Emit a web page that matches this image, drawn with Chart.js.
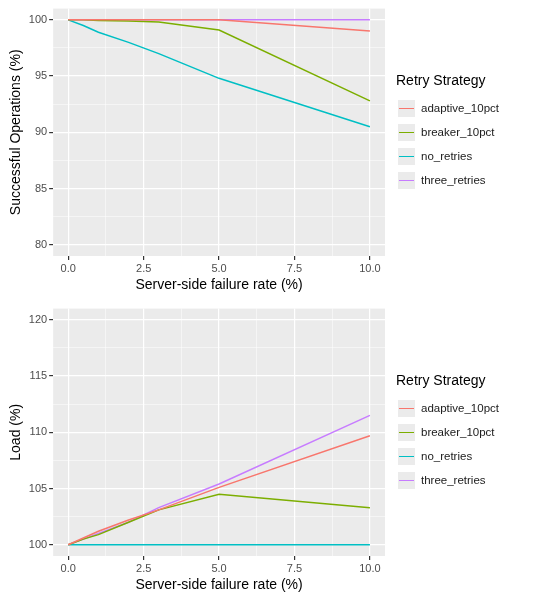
<!DOCTYPE html>
<html><head><meta charset="utf-8">
<script src="https://cdn.jsdelivr.net/npm/chart.js@4"></script>
<style>
body{margin:0;background:#fff;font-family:"Liberation Sans",Arial,sans-serif;}
.wrap{position:relative;width:540px;height:300px;}
canvas{position:absolute;left:0;top:0;}
.leg{position:absolute;left:396px;font-size:14px;color:#000;}
.leg .t{margin-bottom:8px;}
.leg .it{display:flex;align-items:center;height:24px;font-size:11.5px;color:#1a1a1a;}
.leg .k{width:17px;height:17px;background:#EBEBEB;position:relative;margin-right:6px;margin-left:2px;}
.leg .k i{position:absolute;left:1px;right:1px;top:8px;height:1.4px;}
</style></head><body>
<div class="wrap"><canvas id="c1" width="540" height="300"></canvas><div class="leg" id="l1" style="top:72px"></div></div>
<div class="wrap"><canvas id="c2" width="540" height="300"></canvas><div class="leg" id="l2" style="top:72px"></div></div>
<script>
const strategies=["adaptive_10pct","breaker_10pct","no_retries","three_retries"];
const colors=["#F8766D","#7CAE00","#00BFC4","#C77CFF"];
const failureRate=[0,0.5,1,2,3,5,10];
const successAdaptive=[100,100,100,100,100,100,99.0];
const successBreaker=[100,100,99.95,99.9,99.8,99.1,92.8];
const successNone=[100,99.5,98.9,98.0,97.0,94.8,90.5];
const successThree=[100,100,100,100,100,100,100];
const loadAdaptive=[100,100.6,101.2,102.2,103.1,105.1,109.7];
const loadBreaker=[100,100.5,100.9,102.0,103.1,104.5,103.3];
const loadNone=[100,100,100,100,100,100,100];
const loadThree=[100,100.5,101.0,102.0,103.3,105.4,111.5];
const xTicks=[0,2.5,5,7.5,10];

const bg={id:'bg',beforeDraw(c){const a=c.chartArea,x=c.ctx;x.save();x.fillStyle='#EBEBEB';x.fillRect(a.left,a.top,a.right-a.left,a.bottom-a.top);x.restore();}};
function mk(id,series,ymin,ymax,ytitle,top){
  const ds=series.map((s,i)=>({label:strategies[i],data:failureRate.map((x,j)=>({x:x,y:s[j]})),borderColor:colors[i],borderWidth:1.5,pointRadius:0,fill:false,tension:0}));
  const isMajX=v=>Math.abs(v/2.5-Math.round(v/2.5))<1e-6;
  const isMajY=v=>Math.abs(v/5-Math.round(v/5))<1e-6;
  new Chart(document.getElementById(id),{type:'line',data:{datasets:ds},plugins:[bg],
  options:{responsive:false,animation:false,layout:{padding:{top:top,right:155,left:4,bottom:2}},
  plugins:{legend:{display:false},tooltip:{enabled:false}},
  scales:{
   x:{type:'linear',min:-0.5,max:10.5,afterBuildTicks:a=>{const t=[];for(let v=-1.25;v<=11.25;v+=1.25)if(v>=-0.5&&v<=10.5)t.push({value:v});a.ticks=t;},
     ticks:{autoSkip:false,maxRotation:0,color:'#4D4D4D',font:{size:11,family:'Liberation Sans'},padding:2,callback:v=>isMajX(v)?v.toFixed(1):''},
     grid:{color:'#fff',lineWidth:c=>isMajX(c.tick.value)?1.2:0.5,tickColor:c=>isMajX(c.tick.value)?'#333':'rgba(0,0,0,0)',tickLength:4,drawOnChartArea:true},
     border:{display:false},
     title:{display:true,text:'Server-side failure rate (%)',color:'#000',font:{size:14,family:'Liberation Sans'},padding:{top:0}}},
   y:{min:ymin,max:ymax,afterBuildTicks:a=>{const t=[];for(let v=Math.ceil(ymin/2.5)*2.5;v<=ymax;v+=2.5)t.push({value:v});a.ticks=t;},
     ticks:{autoSkip:false,color:'#4D4D4D',font:{size:11,family:'Liberation Sans'},padding:2,callback:v=>isMajY(v)?String(v):''},
     grid:{color:'#fff',lineWidth:c=>isMajY(c.tick.value)?1.2:0.5,tickColor:c=>isMajY(c.tick.value)?'#333':'rgba(0,0,0,0)',tickLength:4},
     border:{display:false},
     title:{display:true,text:ytitle,color:'#000',font:{size:14,family:'Liberation Sans'},padding:{bottom:2}}}
  }}});
}
mk('c1',[successAdaptive,successBreaker,successNone,successThree],79,101,'Successful Operations (%)',1);
mk('c2',[loadAdaptive,loadBreaker,loadNone,loadThree],99,121,'Load (%)',3);
for(const id of ['l1','l2']){
  let h='<div class="t">Retry Strategy</div>';
  strategies.forEach((s,i)=>{h+=`<div class="it"><span class="k"><i style="background:${colors[i]}"></i></span>${s}</div>`;});
  document.getElementById(id).innerHTML=h;
}
</script></body></html>
